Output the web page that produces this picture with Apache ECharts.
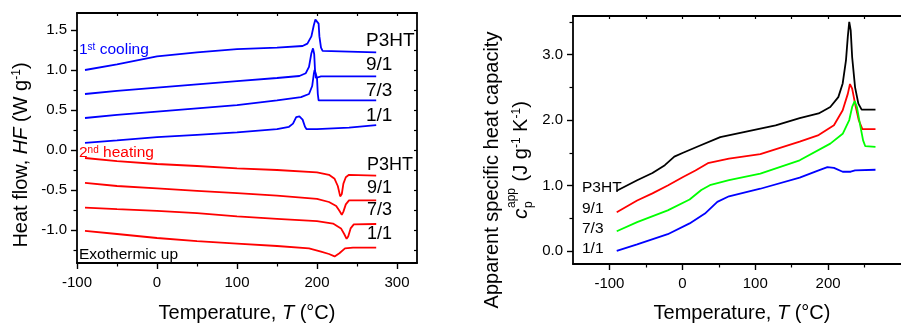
<!DOCTYPE html>
<html>
<head>
<meta charset="utf-8">
<script src="https://cdn.jsdelivr.net/npm/echarts@6/dist/echarts.min.js"></script>
<style>
  html, body { margin: 0; padding: 0; background: #fff; }
  #chart { width: 901px; height: 325px; }
</style>
</head>
<body>
<div id="chart"></div>
<script>
// ---- DSC heat flow, [temperature °C, W/g] (curves offset for clarity) ----
const coolP3HT = [[-90,1.0],[-50,1.07],[0,1.17],[50,1.22],[100,1.26],[150,1.28],[182,1.30],[188,1.33],[193,1.42],[196,1.56],[198,1.63],[200,1.64],[202,1.58],[203,1.42],[205,1.28],[207,1.24],[240,1.23],[274,1.22]];
const cool91   = [[-90,0.70],[-50,0.74],[0,0.78],[50,0.82],[100,0.86],[150,0.90],[178,0.925],[186,0.96],[190,1.04],[193,1.21],[195,1.27],[196.5,1.2],[197.5,1.0],[198.5,0.90],[201,0.90],[205,0.92],[274,0.92]];
const cool73   = [[-90,0.40],[-50,0.44],[0,0.48],[50,0.52],[100,0.56],[150,0.62],[180,0.66],[190,0.70],[194,0.80],[196,0.95],[197,1.0],[199,0.98],[200,0.9],[201,0.7],[202,0.62],[274,0.62]];
const cool11   = [[-90,0.09],[-50,0.12],[0,0.16],[50,0.19],[100,0.22],[150,0.26],[165,0.29],[170,0.33],[174,0.41],[178,0.42],[182,0.38],[185,0.29],[187,0.26],[200,0.26],[240,0.28],[274,0.31]];

const heatP3HT = [[-90,-0.10],[-50,-0.14],[0,-0.175],[50,-0.20],[100,-0.23],[150,-0.25],[200,-0.28],[215,-0.31],[222,-0.36],[226,-0.45],[229,-0.58],[231,-0.55],[233,-0.42],[236,-0.34],[240,-0.31],[274,-0.32]];
const heat91   = [[-90,-0.41],[-50,-0.45],[0,-0.48],[50,-0.51],[100,-0.54],[150,-0.57],[200,-0.61],[215,-0.65],[224,-0.70],[228,-0.76],[231,-0.81],[233,-0.77],[236,-0.68],[240,-0.63],[274,-0.63]];
const heat73   = [[-90,-0.72],[-50,-0.74],[0,-0.76],[50,-0.79],[100,-0.83],[150,-0.86],[200,-0.89],[220,-0.92],[230,-0.98],[234,-1.05],[237,-1.11],[239,-1.08],[242,-0.98],[246,-0.93],[274,-0.925]];
const heat11   = [[-90,-1.01],[-50,-1.05],[0,-1.10],[50,-1.14],[100,-1.17],[150,-1.20],[190,-1.23],[205,-1.27],[215,-1.30],[222,-1.33],[228,-1.29],[235,-1.23],[245,-1.22],[274,-1.22]];

// ---- apparent specific heat capacity, [temperature °C, J/(g K)] ----
const cpP3HT = [[-90,0.92],[-62,1.08],[-41,1.19],[-24,1.31],[-11,1.44],[1,1.50],[22,1.60],[52,1.74],[86,1.82],[128,1.92],[161,2.03],[187,2.10],[203,2.20],[214,2.35],[220,2.56],[224.5,2.91],[227,3.27],[229,3.50],[231,3.37],[233,2.96],[237,2.50],[241.5,2.25],[246,2.16],[265,2.16]];
const cp91   = [[-90,0.59],[-62,0.77],[-41,0.88],[-20,1.0],[1,1.13],[18,1.23],[35,1.34],[64,1.41],[107,1.48],[161,1.67],[187,1.77],[208,1.92],[220,2.15],[227,2.40],[230,2.55],[233,2.48],[237,2.25],[242,2.0],[247,1.86],[265,1.86]];
const cp73   = [[-90,0.30],[-62,0.44],[-20,0.62],[10,0.785],[26,0.93],[39,1.01],[64,1.08],[107,1.18],[161,1.385],[203,1.64],[220,1.79],[229,2.0],[233,2.20],[236.5,2.29],[239.5,2.20],[243.5,1.95],[248,1.69],[251,1.60],[265,1.59]];
const cp11   = [[-90,0.0],[-62,0.10],[-20,0.255],[10,0.42],[31,0.57],[48,0.75],[64,0.835],[107,0.95],[161,1.12],[187,1.23],[199,1.28],[208,1.27],[220,1.21],[231,1.21],[237,1.23],[265,1.24]];

// ---- axis ticks ----
const hfXMajor = [-100, 0, 100, 200, 300];
const hfXMinor = [-50, 50, 150, 250];
const hfXTop   = [-50, 0, 50, 100, 150, 200, 250, 300];
const hfYMajor = [-1, -0.5, 0, 0.5, 1, 1.5];
const hfYMinor = [-1.25, -0.75, -0.25, 0.25, 0.75, 1.25];
const hfYRight = [-1.25, -1, -0.75, -0.5, -0.25, 0, 0.25, 0.5, 0.75, 1, 1.25, 1.5];
const cpXMajor = [-100, 0, 100, 200];
const cpXMinor = [-50, 50, 150, 250];
const cpXTop   = [-100, -50, 0, 50, 100, 150, 200, 250];
const cpYMajor = [0, 1, 2, 3];
const cpYMinor = [0.5, 1.5, 2.5, 3.5];

const FONT = '"Liberation Sans", Arial, sans-serif';
const BLACK = '#000';

function axis(extra) {
  return Object.assign({
    type: 'value',
    splitLine: { show: false },
    axisLine: { show: false },
    axisTick: { show: false },
    axisLabel: { show: false },
    silent: true
  }, extra);
}
const lineStyle = { color: BLACK, width: 1.8 };
function majorAxis(idx, pos, min, max, vals, fmt, margin) {
  return axis({
    gridIndex: idx, position: pos, min: min, max: max,
    axisLine: { show: true, onZero: false, lineStyle: lineStyle },
    axisTick: { show: true, inside: false, length: 6, customValues: vals, lineStyle: { color: BLACK, width: 1.4 } },
    axisLabel: { show: true, customValues: vals, formatter: fmt, margin: margin,
                 color: BLACK, fontSize: 15, fontFamily: FONT }
  });
}
function tickAxis(idx, pos, min, max, vals, len, inside, showLine) {
  return axis({
    gridIndex: idx, position: pos, min: min, max: max,
    axisLine: { show: !!showLine, onZero: false, lineStyle: lineStyle },
    axisTick: { show: true, inside: inside, length: len, customValues: vals, lineStyle: { color: BLACK, width: 1.2 } }
  });
}
const intFmt = v => String(v);
const decFmt = v => v.toFixed(1);

function line(data, color, xi, yi) {
  return { type: 'line', data: data, xAxisIndex: xi, yAxisIndex: yi, showSymbol: false,
           symbol: 'none', lineStyle: { color: color, width: 1.8 }, itemStyle: { color: color },
           animation: false, silent: true, z: 3 };
}

function txt(x, y, text, size, color, align, rich) {
  return { type: 'text', x: x, y: y, z: 10, silent: true,
           style: { text: text, fontSize: size, fontFamily: FONT, fill: color,
                    align: align || 'left', verticalAlign: 'middle', rich: rich } };
}

const graphics = [
  // left panel annotations
  txt(79, 50, '1{s|st} cooling', 15.5, '#0000ff', 'left', { s: { fontSize: 10, verticalAlign: 'top', lineHeight: 10, fill: '#0000ff', fontFamily: FONT } }),
  txt(79, 153, '2{s|nd} heating', 15.5, '#ff0000', 'left', { s: { fontSize: 10, verticalAlign: 'top', lineHeight: 10, fill: '#ff0000', fontFamily: FONT } }),
  txt(79, 255, 'Exothermic up', 15.5, BLACK),
  txt(366, 41, 'P3HT', 19, BLACK), txt(366, 65, '9/1', 19, BLACK),
  txt(366, 91, '7/3', 19, BLACK), txt(366, 116, '1/1', 19, BLACK),
  txt(367, 165.5, 'P3HT', 18, BLACK), txt(367, 188, '9/1', 18, BLACK),
  txt(367, 210.5, '7/3', 18, BLACK), txt(367, 234, '1/1', 18, BLACK),
  // right panel annotations
  txt(582, 188, 'P3HT', 15.5, BLACK), txt(582, 209, '9/1', 15.5, BLACK),
  txt(582, 229, '7/3', 15.5, BLACK), txt(582, 248.5, '1/1', 15.5, BLACK),
  // axis titles
  txt(247, 313, 'Temperature, {i|T} (°C)', 20, BLACK, 'center', { i: { fontStyle: 'italic', fontSize: 20, fontFamily: FONT } }),
  txt(742, 313, 'Temperature, {i|T} (°C)', 20, BLACK, 'center', { i: { fontStyle: 'italic', fontSize: 20, fontFamily: FONT } }),
  { type: 'group', x: 21, y: 155, rotation: Math.PI / 2, silent: true, children: [
    txt(0, 0, 'Heat flow, {i|HF} (W g{s|-1})', 20, BLACK, 'center', {
      i: { fontStyle: 'italic', fontSize: 20, fontFamily: FONT },
      s: { fontSize: 12, verticalAlign: 'top', lineHeight: 12, fontFamily: FONT }
    })
  ] },
  { type: 'group', x: 492, y: 170, rotation: Math.PI / 2, silent: true, children: [
    txt(0, 0, 'Apparent specific heat capacity', 20, BLACK, 'center')
  ] },
  { type: 'group', x: 521, y: 158, rotation: Math.PI / 2, silent: true, children: [
    { type: 'text', x: -61, y: 0, silent: true, style: { text: 'c', fontSize: 21, fontStyle: 'italic', fontFamily: FONT, fill: BLACK, align: 'left', verticalAlign: 'middle' } },
    { type: 'text', x: -50, y: -9, silent: true, style: { text: 'app', fontSize: 12, fontFamily: FONT, fill: BLACK, align: 'left', verticalAlign: 'middle' } },
    { type: 'text', x: -50, y: 8, silent: true, style: { text: 'p', fontSize: 12, fontFamily: FONT, fill: BLACK, align: 'left', verticalAlign: 'middle' } },
    txt(-29, 0, ' (J g{s|-1} K{s|-1})', 20, BLACK, 'left', {
      s: { fontSize: 12, verticalAlign: 'top', lineHeight: 12, fontFamily: FONT }
    })
  ] }
];

const chart = echarts.init(document.getElementById('chart'), null, { renderer: 'canvas' });
chart.setOption({
  animation: false,
  backgroundColor: '#fff',
  textStyle: { fontFamily: FONT },
  grid: [
    { left: 77, right: 484, top: 13, bottom: 62, containLabel: false },
    { left: 573, right: -28, top: 16, bottom: 61, containLabel: false }
  ],
  xAxis: [
    majorAxis(0, 'bottom', -100, 325, hfXMajor, intFmt, 12),
    tickAxis(0, 'bottom', -100, 325, hfXMinor, 3.5, false, false),
    tickAxis(0, 'top', -100, 325, hfXTop, 3, true, true),
    majorAxis(1, 'bottom', -150, 300, cpXMajor, intFmt, 12),
    tickAxis(1, 'bottom', -150, 300, cpXMinor, 3.5, false, false),
    tickAxis(1, 'top', -150, 300, cpXTop, 3, true, true)
  ],
  yAxis: [
    majorAxis(0, 'left', -1.4125, 1.7125, hfYMajor, decFmt, 10),
    tickAxis(0, 'left', -1.4125, 1.7125, hfYMinor, 3.5, false, false),
    tickAxis(0, 'right', -1.4125, 1.7125, hfYRight, 3, true, true),
    majorAxis(1, 'left', -0.2, 3.59, cpYMajor, decFmt, 10),
    tickAxis(1, 'left', -0.2, 3.59, cpYMinor, 3.5, false, false)
  ],
  series: [
    line(coolP3HT, '#0000ff', 0, 0), line(cool91, '#0000ff', 0, 0),
    line(cool73, '#0000ff', 0, 0), line(cool11, '#0000ff', 0, 0),
    line(heatP3HT, '#ff0000', 0, 0), line(heat91, '#ff0000', 0, 0),
    line(heat73, '#ff0000', 0, 0), line(heat11, '#ff0000', 0, 0),
    line(cpP3HT, '#000000', 3, 3), line(cp91, '#ff0000', 3, 3),
    line(cp73, '#00ff00', 3, 3), line(cp11, '#0000ff', 3, 3)
  ],
  graphic: graphics
});
</script>
</body>
</html>
